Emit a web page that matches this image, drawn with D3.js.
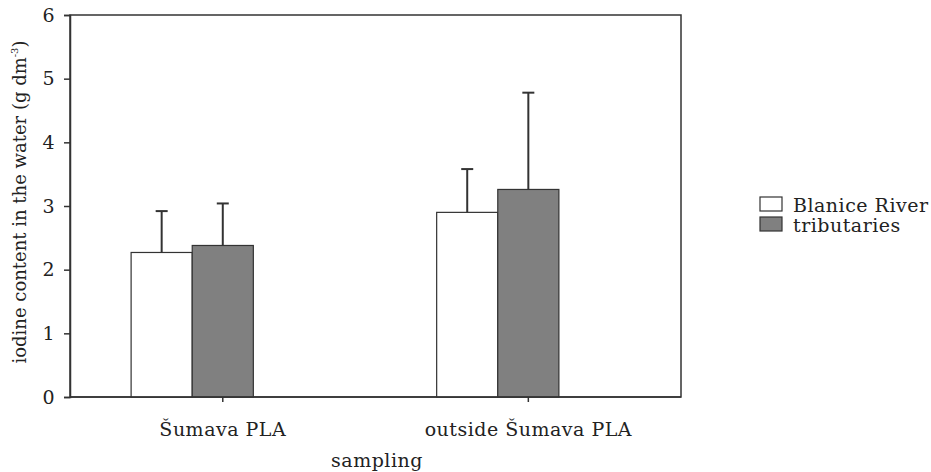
<!DOCTYPE html>
<html>
<head>
<meta charset="utf-8">
<script src="https://d3js.org/d3.v7.min.js"></script>
<style>
  body { margin: 0; background: #fff; }
  text { font-family: "DejaVu Serif", serif; fill: #222; letter-spacing: 0.5px; }
</style>
</head>
<body>
<svg width="931" height="472"></svg>
<script>
// data
const groups = ["Šumava PLA", "outside Šumava PLA"];
const series = ["Blanice River", "tributaries"];
const means = [[2.27, 2.38], [2.90, 3.26]];
const upper = [[2.92, 3.04], [3.58, 4.78]];
const yTicks = [0, 1, 2, 3, 4, 5, 6];
const fills = ["#ffffff", "#808080"];

const svg = d3.select("svg");
const m = { left: 70, right: 681, top: 15, bottom: 397 };
const fs = "19px";

const y = d3.scaleLinear().domain([0, 6]).range([m.bottom, m.top]);
const x = d3.scaleBand().domain(groups).range([m.left, 620]).paddingInner(0.6).paddingOuter(0.2);
const xs = d3.scaleBand().domain(series).range([0, x.bandwidth()]);

// frame
svg.append("rect").attr("x", m.left).attr("y", m.top)
  .attr("width", m.right - m.left).attr("height", m.bottom - m.top)
  .attr("fill", "none").attr("stroke", "#333").attr("stroke-width", 1.5);

// y axis
const yAxis = svg.append("g").attr("transform", `translate(${m.left},0)`)
  .call(d3.axisLeft(y).tickValues(yTicks).tickFormat(d3.format("d")).tickSize(6).tickPadding(9));
yAxis.select(".domain").attr("stroke", "#333").attr("stroke-width", 1.5);
yAxis.selectAll(".tick line").attr("stroke", "#333").attr("stroke-width", 1.5);
yAxis.selectAll(".tick text").style("font-family", "DejaVu Serif").style("font-size", fs).attr("fill", "#222");

// bars
const g = svg.append("g").selectAll("g").data(groups).join("g")
  .attr("transform", d => `translate(${x(d)},0)`);

g.each(function(grp, gi) {
  const sel = d3.select(this);
  series.forEach((s, si) => {
    const cx = xs(s) + xs.bandwidth() / 2;
    sel.append("line").attr("x1", cx).attr("x2", cx)
      .attr("y1", y(means[gi][si])).attr("y2", y(upper[gi][si]))
      .attr("stroke", "#333").attr("stroke-width", 2);
    sel.append("line").attr("x1", cx - 6).attr("x2", cx + 6)
      .attr("y1", y(upper[gi][si])).attr("y2", y(upper[gi][si]))
      .attr("stroke", "#333").attr("stroke-width", 2);
    sel.append("rect").attr("x", xs(s)).attr("width", xs.bandwidth())
      .attr("y", y(means[gi][si])).attr("height", y(0) - y(means[gi][si]))
      .attr("fill", fills[si]).attr("stroke", "#333").attr("stroke-width", 1.2);
  });
  // tick below the axis, at the second bar's centre as in the original
  const tx = xs(series[1]) + xs.bandwidth() / 2;
  sel.append("line").attr("x1", tx).attr("x2", tx).attr("y1", m.bottom).attr("y2", m.bottom + 5)
    .attr("stroke", "#333").attr("stroke-width", 1.5);
  sel.append("text").attr("x", tx).attr("y", m.bottom + 39)
    .attr("text-anchor", "middle").style("font-size", fs).text(grp);
});

// x axis line over bars
svg.append("line").attr("x1", m.left).attr("x2", m.right).attr("y1", m.bottom).attr("y2", m.bottom)
  .attr("stroke", "#333").attr("stroke-width", 1.5);

// axis titles
svg.append("text").attr("x", 377).attr("y", 467).attr("text-anchor", "middle")
  .style("font-size", fs).text("sampling");

const yt = svg.append("text").attr("transform", "translate(26,202) rotate(-90)")
  .attr("text-anchor", "middle").style("font-size", "18px").style("letter-spacing", "0px");
yt.append("tspan").text("iodine content in the water (g dm");
yt.append("tspan").attr("dy", -8).style("font-size", "10px").text("-3");
yt.append("tspan").attr("dy", 8).text(")");

// legend
const lg = svg.append("g").attr("transform", "translate(760,197)");
series.forEach((s, i) => {
  lg.append("rect").attr("x", 0).attr("y", i * 20).attr("width", 22).attr("height", 14)
    .attr("fill", fills[i]).attr("stroke", "#333").attr("stroke-width", 1.2);
  lg.append("text").attr("x", 33).attr("y", i * 20 + 15).style("font-size", fs).text(s);
});
</script>
</body>
</html>
